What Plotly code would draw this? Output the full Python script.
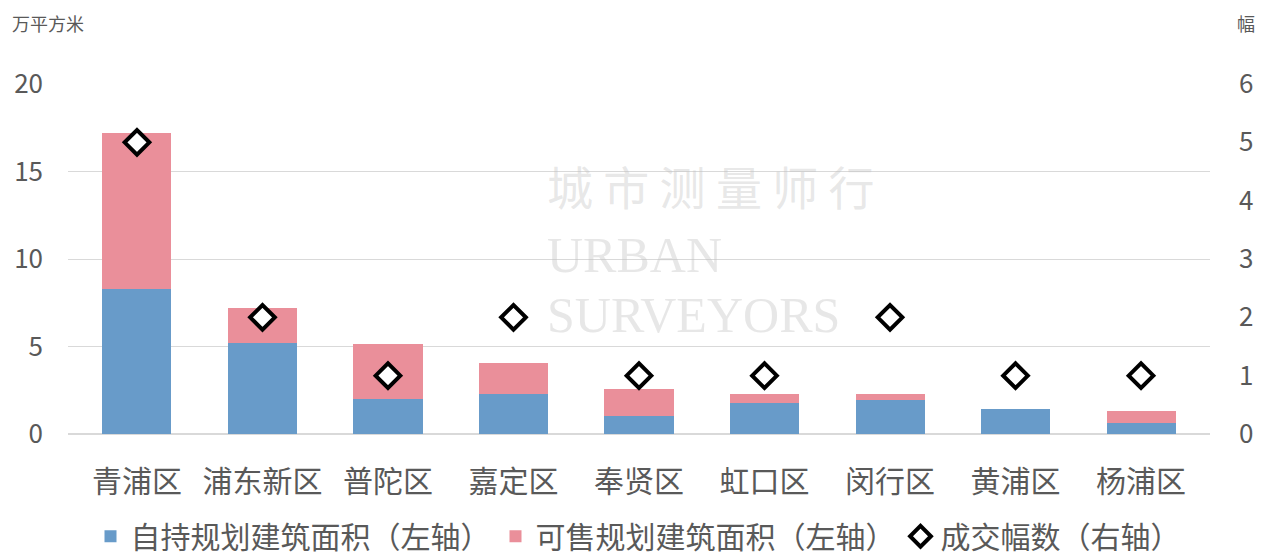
import plotly.graph_objects as go

categories = ["青浦区", "浦东新区", "普陀区", "嘉定区", "奉贤区", "虹口区", "闵行区", "黄浦区", "杨浦区"]
self_held = [8.3, 5.2, 2.0, 2.3, 1.03, 1.8, 1.95, 1.43, 0.65]
for_sale = [8.9, 2.0, 3.15, 1.77, 1.54, 0.5, 0.34, 0.0, 0.66]
deals = [5, 2, 1, 2, 1, 1, 2, 1, 1]

BLUE = "#689BC9"
PINK = "#EA8F9A"
GREY = "#595959"
FONT = "Noto Sans CJK SC"

fig = go.Figure()
fig.add_trace(go.Bar(x=categories, y=self_held, name="自持规划建筑面积（左轴）",
                     marker=dict(color=BLUE, line=dict(width=0))))
fig.add_trace(go.Bar(x=categories, y=for_sale, name="可售规划建筑面积（左轴）",
                     marker=dict(color=PINK, line=dict(width=0))))
fig.add_trace(go.Scatter(x=categories, y=deals, name="成交幅数（右轴）", mode="markers", yaxis="y2",
                         marker=dict(symbol="diamond", size=19, color="white",
                                     line=dict(color="black", width=4))))

# watermark
wm = "rgba(195,195,195,0.4)"
fig.add_annotation(x=0.4177, y=0.711, xref="paper", yref="paper", text="城 市 测 量 师 行", showarrow=False,
                   xanchor="left", yanchor="middle", font=dict(family=FONT, size=46, color=wm))
fig.add_annotation(x=0.4177, y=0.511, xref="paper", yref="paper", text="URBAN", showarrow=False,
                   xanchor="left", yanchor="middle", font=dict(family="Liberation Serif", size=50, color=wm))
fig.add_annotation(x=0.4177, y=0.34, xref="paper", yref="paper", text="SURVEYORS", showarrow=False,
                   xanchor="left", yanchor="middle", font=dict(family="Liberation Serif", size=50, color=wm))

fig.add_annotation(x=-0.0508, y=1.174, xref="paper", yref="paper", text="万平方米", showarrow=False,
                   xanchor="left", yanchor="middle", font=dict(family=FONT, size=18, color=GREY))
fig.add_annotation(x=1.0219, y=1.174, xref="paper", yref="paper", text="幅", showarrow=False,
                   xanchor="left", yanchor="middle", font=dict(family=FONT, size=18, color=GREY))

fig.update_layout(
    width=1260, height=548,
    barmode="stack", bargap=0.45,
    plot_bgcolor="white", paper_bgcolor="white",
    margin=dict(l=60, r=58, t=76, b=122, autoexpand=False),
    font=dict(family=FONT, color=GREY),
    xaxis=dict(tickfont=dict(size=30, color=GREY, family=FONT), showgrid=False,
               showline=False, ticks="", ticklabelstandoff=27, automargin=False),
    yaxis=dict(range=[0, 20], tickvals=[0, 5, 10, 15, 20], tickfont=dict(size=26, color=GREY),
               gridcolor="#D9D9D9", gridwidth=1, zeroline=True, zerolinecolor="#D9D9D9",
               ticklabelstandoff=24, automargin=False),
    yaxis2=dict(range=[0, 6], tickvals=[0, 1, 2, 3, 4, 5, 6], overlaying="y", side="right",
                tickfont=dict(size=26, color=GREY), showgrid=False, zeroline=False,
                ticklabelstandoff=28, automargin=False),
    legend=dict(orientation="h", x=0.5, xanchor="center", xref="container",
                y=0.036, yanchor="middle", yref="container",
                font=dict(size=30, color=GREY, family=FONT), traceorder="normal",
                itemwidth=30),
    showlegend=True,
)

fig.write_html("out.html")
